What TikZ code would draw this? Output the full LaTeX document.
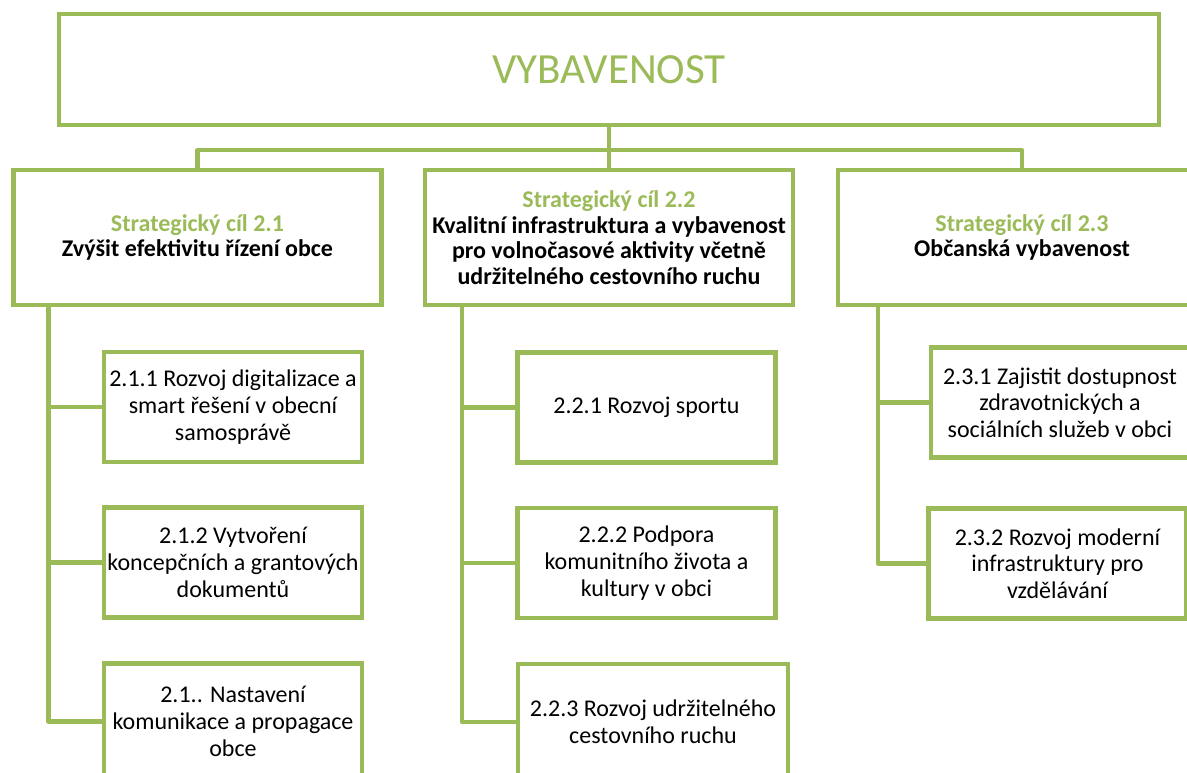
\documentclass[tikz,border=0pt]{standalone}
\usepackage{fontspec}
\setmainfont{Carlito}
\usetikzlibrary{positioning}
\definecolor{vgreen}{HTML}{9BBB59}

\begin{document}
\begin{tikzpicture}[x=1pt,y=1pt,
    topbox/.style={rectangle,draw=vgreen,line width=4.2pt,fill=white,
		minimum width=1100pt,minimum height=111pt,text=vgreen,
		font=\fontsize{43pt}{50pt}\selectfont},
    goal/.style={rectangle,draw=vgreen,line width=4.2pt,fill=white,
		minimum width=368pt,minimum height=135pt,align=center,
		font=\fontsize{24pt}{25.5pt}\selectfont\bfseries},
    measure/.style={rectangle,draw=vgreen,line width=4.2pt,fill=white,
		minimum width=258pt,minimum height=110pt,align=center,
		font=\fontsize{24pt}{26.7pt}\selectfont},
% Connector style
    link/.style={draw=vgreen,line width=4.2pt,line join=round},
    node distance=156pt,on grid
    ]
   \useasboundingbox (0,0) rectangle (1187,-772);
   \clip (0,0) rectangle (1187,-772);
%%% Top level and goals
   \node [topbox] (top) at (609,-69.5) {VYBAVENOST};
   \node [goal, below=168pt of top] (g2)
      {\textcolor{vgreen}{Strategický cíl 2.2}\\Kvalitní infrastruktura a vybavenost\\pro volnočasové aktivity včetně\\udržitelného cestovního ruchu};
   \node [goal, left=411.5pt of g2] (g1)
      {\textcolor{vgreen}{Strategický cíl 2.1}\\Zvýšit efektivitu řízení obce};
   \node [goal, right=413pt of g2] (g3)
      {\textcolor{vgreen}{Strategický cíl 2.3}\\Občanská vybavenost};

%%% Measures of goal 2.1
   \node [measure, below right=169.5pt and 35.5pt of g1] (c211)
      {2.1.1 Rozvoj digitalizace a\\smart řešení v obecní\\samosprávě};
   \node [measure, below=155.5pt of c211] (c212)
      {2.1.2 Vytvoření\\koncepčních a grantových\\dokumentů};
   \node [measure, below=159pt of c212, minimum height=116pt] (c213)
      {2.1.. Nastavení\\komunikace a propagace\\obce};

%%% Measures of goal 2.2
   \node [measure, below right=170pt and 37.5pt of g2] (c221)
      {2.2.1 Rozvoj sportu};
   \node [measure, below=155.5pt of c221] (c222)
      {2.2.2 Podpora\\komunitního života a\\kultury v obci};
   \node [measure, below right=159pt and 6.5pt of c222, minimum width=270pt,
      minimum height=116pt] (c223)
      {2.2.3 Rozvoj udržitelného\\cestovního ruchu};

%%% Measures of goal 2.3
   \node [measure, below right=165pt and 38pt of g3] (c231)
      {2.3.1 Zajistit dostupnost\\zdravotnických a\\sociálních služeb v obci};
   \node [measure, below left=161pt and 2.5pt of c231] (c232)
      {2.3.2 Rozvoj moderní\\infrastruktury pro\\vzdělávání};

%%% Connectors
   \coordinate (bus) at ([yshift=-23pt]top.south);
   \draw [link] (top) -- (g2);
   \draw [link] (g1.north) |- (bus) -| (g3.north);

   \coordinate (s1) at ([xshift=37pt]g1.south west);
   \coordinate (s2) at ([xshift=39pt]g2.south west);
   \coordinate (s3) at ([xshift=42pt]g3.south west);

   \draw [link] (s1) |- (c213.west);
   \foreach \c in {c211,c212}
      \draw [link] (\c.west) -- (\c.west -| s1);

   \draw [link] (s2) |- (c223.west);
   \foreach \c in {c221,c222}
      \draw [link] (\c.west) -- (\c.west -| s2);

   \draw [link] (s3) |- (c232.west);
   \draw [link] (c231.west) -- (c231.west -| s3);
\end{tikzpicture}
\end{document}
